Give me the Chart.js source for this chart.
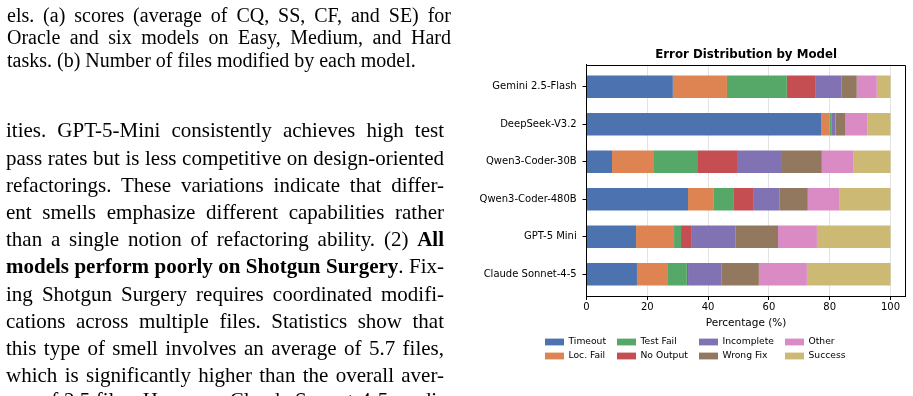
<!DOCTYPE html>
<html><head><meta charset="utf-8">
<script src="https://cdn.jsdelivr.net/npm/chart.js@4.4.1/dist/chart.umd.min.js"></script>
<style>
html,body{margin:0;padding:0;background:#fff;width:913px;height:396px;overflow:hidden;}
#wrap{position:relative;width:913px;height:396px;overflow:hidden;}
canvas{position:absolute;left:0;top:0;}
.t{position:absolute;font-family:"Liberation Serif","Times New Roman",serif;color:#000;white-space:nowrap;}
.cap{left:7px;width:444px;font-size:20px;line-height:22.6px;height:22.6px;}
.bod{left:6px;width:438px;font-size:21px;line-height:27.1px;height:27.1px;}
.j{text-align:justify;text-align-last:justify;}
</style></head>
<body><div id="wrap">
<canvas id="c" width="913" height="396" style="width:913px;height:396px"></canvas>
<div class="t cap j" style="top:3.5px">els. (a) scores (average of CQ, SS, CF, and SE) for</div>
<div class="t cap j" style="top:26.1px">Oracle and six models on Easy, Medium, and Hard</div>
<div class="t cap" style="top:48.7px">tasks. (b) Number of files modified by each model.</div>
<div class="t bod j" style="top:117.4px">ities. GPT-5-Mini consistently achieves high test</div>
<div class="t bod j" style="top:144.6px">pass rates but is less competitive on design-oriented</div>
<div class="t bod j" style="top:171.8px">refactorings. These variations indicate that differ-</div>
<div class="t bod j" style="top:199.0px">ent smells emphasize different capabilities rather</div>
<div class="t bod j" style="top:226.2px">than a single notion of refactoring ability. (2) <b>All</b></div>
<div class="t bod j" style="top:253.4px"><b>models perform poorly on Shotgun Surgery</b>. Fix-</div>
<div class="t bod j" style="top:280.6px">ing Shotgun Surgery requires coordinated modifi-</div>
<div class="t bod j" style="top:307.8px">cations across multiple files. Statistics show that</div>
<div class="t bod j" style="top:335.0px">this type of smell involves an average of 5.7 files,</div>
<div class="t bod j" style="top:362.2px">which is significantly higher than the overall aver-</div>
<div class="t bod j" style="top:387.4px">age of 2.5 files. However, Claude Sonnet-4-5 modi-</div>
</div>
<script>
const models = ['Gemini 2.5-Flash','DeepSeek-V3.2','Qwen3-Coder-30B','Qwen3-Coder-480B','GPT-5 Mini','Claude Sonnet-4-5'];
const seriesNames = ['Timeout','Loc. Fail','Test Fail','No Output','Incomplete','Wrong Fix','Other','Success'];
const timeout    = [28.4, 77.3,  8.4, 33.4, 16.3, 16.6];
const locFail    = [17.8,  2.7, 13.8,  8.5, 12.5, 10.2];
const testFail   = [19.7,  0.5, 14.2,  6.6,  2.3,  6.2];
const noOutput   = [ 9.3,  0.0, 13.4,  6.3,  3.3,  0.4];
const incomplete = [ 8.6,  1.4, 14.5,  8.6, 14.7, 11.1];
const wrongFix   = [ 5.1,  3.3, 13.1,  9.4, 13.9, 12.2];
const other      = [ 6.6,  7.3, 10.3, 10.5, 12.8, 15.8];
const success    = [ 4.5,  7.5, 12.3, 16.7, 24.2, 27.5];
const xTicks = [0, 20, 40, 60, 80, 100];
const colors = ['#4C72B0','#DD8452','#55A868','#C44E52','#8172B3','#937860','#DA8BC3','#CCB974'];

const seriesValues = [timeout, locFail, testFail, noOutput, incomplete, wrongFix, other, success];
const datasets = seriesNames.map((name, k) => ({
  label: name,
  data: seriesValues[k].map((v, i) => ({x: v, y: i})),
  backgroundColor: colors[k],
  borderWidth: 0,
  barPercentage: 0.6,
  categoryPercentage: 1.0
}));

Chart.defaults.font.family = '"DejaVu Sans", sans-serif';
Chart.defaults.color = '#000';

const framePlugin = {
  id: 'frame',
  afterDraw(chart) {
    const a = chart.chartArea, ctx = chart.ctx;
    ctx.save();
    ctx.strokeStyle = '#000';
    ctx.lineWidth = 1;
    ctx.beginPath();
    const t = Math.round(a.top) + 0.5, r = Math.round(a.right) - 0.5;
    ctx.moveTo(a.left, t); ctx.lineTo(r, t); ctx.lineTo(r, a.bottom);
    ctx.stroke();
    ctx.restore();
  }
};

const legendPlugin = {
  id: 'mplLegend',
  afterDraw(chart) {
    const ctx = chart.ctx;
    const colX = [545, 617, 699, 785];
    const rowY = [342, 356];
    ctx.save();
    ctx.font = '9.2px "DejaVu Sans"';
    ctx.textBaseline = 'middle';
    ctx.textAlign = 'left';
    chart.data.datasets.forEach((d, i) => {
      const col = Math.floor(i / 2), row = i % 2;
      ctx.fillStyle = d.backgroundColor;
      ctx.fillRect(colX[col], rowY[row] - 3.4, 19, 6.8);
      ctx.fillStyle = '#000';
      ctx.fillText(d.label, colX[col] + 23.5, rowY[row]);
    });
    ctx.restore();
  }
};

new Chart(document.getElementById('c'), {
  type: 'bar',
  data: {datasets},
  options: {
    indexAxis: 'y',
    responsive: false,
    animation: false,
    events: [],
    layout: {padding: {left: 456.5, right: 7.3, top: 40, bottom: 60}},
    plugins: {
      legend: {display: false},
      tooltip: {enabled: false},
      title: {
        display: true, text: 'Error Distribution by Model', fullSize: false, color: '#000',
        font: {size: 11.8, weight: 'bold', lineHeight: 1.2},
        padding: {top: 7.9, bottom: 2.9}
      }
    },
    scales: {
      x: {
        type: 'linear', stacked: true, min: 0, max: 105, position: 'bottom', z: 1,
        afterBuildTicks: s => { s.ticks = xTicks.map(v => ({value: v})); },
        afterFit: s => { s.height = 40; },
        grid: {display: true, drawOnChartArea: true, drawTicks: true, tickLength: 4,
               color: 'rgba(176,176,176,0.35)', lineWidth: 1, tickColor: '#000', tickWidth: 1},
        border: {display: true, color: '#000', width: 1},
        ticks: {color: '#000', font: {size: 10}, padding: 1, maxRotation: 0, autoSkip: false},
        title: {display: true, text: 'Percentage (%)', color: '#000', font: {size: 10.5}, padding: {top: 0, bottom: 6.4}}
      },
      y: {
        type: 'linear', stacked: true, reverse: true, min: -0.58, max: 5.58, z: 1, offset: false,
        afterBuildTicks: s => { s.ticks = models.map((m, i) => ({value: i})); },
        afterFit: s => { s.width = 130; },
        grid: {display: true, offset: false, drawOnChartArea: false, drawTicks: true, tickLength: 4, tickColor: '#000', tickWidth: 1},
        border: {display: true, color: '#000', width: 1},
        ticks: {color: '#000', font: {size: 10}, padding: 5.8, autoSkip: false,
                callback: v => (models[v] !== undefined ? models[v] : '')}
      }
    }
  },
  plugins: [framePlugin, legendPlugin]
});
</script>
</body></html>
